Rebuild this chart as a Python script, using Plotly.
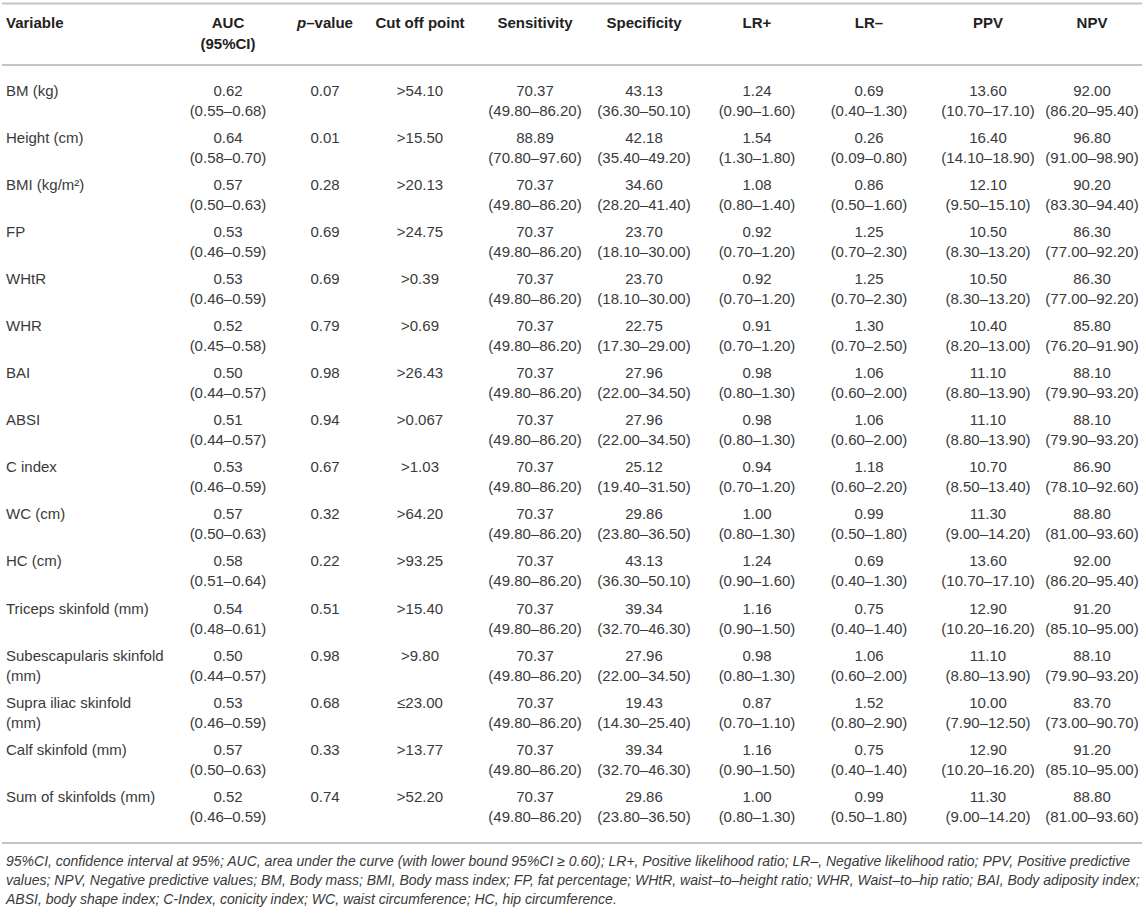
import plotly.graph_objects as go

# ---------------- data ----------------
variables = ["BM (kg)", "Height (cm)", "BMI (kg/m²)", "FP", "WHtR", "WHR", "BAI", "ABSI",
             "C index", "WC (cm)", "HC (cm)", "Triceps skinfold (mm)",
             "Subescapularis skinfold", "Supra iliac skinfold", "Calf skinfold (mm)",
             "Sum of skinfolds (mm)"]
variables_l2 = ["", "", "", "", "", "", "", "", "", "", "", "", "(mm)", "(mm)", "", ""]

auc = ["0.62", "0.64", "0.57", "0.53", "0.53", "0.52", "0.50", "0.51", "0.53", "0.57",
       "0.58", "0.54", "0.50", "0.53", "0.57", "0.52"]
auc_ci = ["(0.55–0.68)", "(0.58–0.70)", "(0.50–0.63)", "(0.46–0.59)", "(0.46–0.59)",
          "(0.45–0.58)", "(0.44–0.57)", "(0.44–0.57)", "(0.46–0.59)", "(0.50–0.63)",
          "(0.51–0.64)", "(0.48–0.61)", "(0.44–0.57)", "(0.46–0.59)", "(0.50–0.63)",
          "(0.46–0.59)"]
p_value = ["0.07", "0.01", "0.28", "0.69", "0.69", "0.79", "0.98", "0.94", "0.67", "0.32",
           "0.22", "0.51", "0.98", "0.68", "0.33", "0.74"]
cutoff = [">54.10", ">15.50", ">20.13", ">24.75", ">0.39", ">0.69", ">26.43", ">0.067",
          ">1.03", ">64.20", ">93.25", ">15.40", ">9.80", "≤23.00", ">13.77", ">52.20"]
sens = ["70.37", "88.89"] + ["70.37"] * 14
sens_ci = ["(49.80–86.20)", "(70.80–97.60)"] + ["(49.80–86.20)"] * 14
spec = ["43.13", "42.18", "34.60", "23.70", "23.70", "22.75", "27.96", "27.96", "25.12",
        "29.86", "43.13", "39.34", "27.96", "19.43", "39.34", "29.86"]
spec_ci = ["(36.30–50.10)", "(35.40–49.20)", "(28.20–41.40)", "(18.10–30.00)",
           "(18.10–30.00)", "(17.30–29.00)", "(22.00–34.50)", "(22.00–34.50)",
           "(19.40–31.50)", "(23.80–36.50)", "(36.30–50.10)", "(32.70–46.30)",
           "(22.00–34.50)", "(14.30–25.40)", "(32.70–46.30)", "(23.80–36.50)"]
lr_pos = ["1.24", "1.54", "1.08", "0.92", "0.92", "0.91", "0.98", "0.98", "0.94", "1.00",
          "1.24", "1.16", "0.98", "0.87", "1.16", "1.00"]
lr_pos_ci = ["(0.90–1.60)", "(1.30–1.80)", "(0.80–1.40)", "(0.70–1.20)", "(0.70–1.20)",
             "(0.70–1.20)", "(0.80–1.30)", "(0.80–1.30)", "(0.70–1.20)", "(0.80–1.30)",
             "(0.90–1.60)", "(0.90–1.50)", "(0.80–1.30)", "(0.70–1.10)", "(0.90–1.50)",
             "(0.80–1.30)"]
lr_neg = ["0.69", "0.26", "0.86", "1.25", "1.25", "1.30", "1.06", "1.06", "1.18", "0.99",
          "0.69", "0.75", "1.06", "1.52", "0.75", "0.99"]
lr_neg_ci = ["(0.40–1.30)", "(0.09–0.80)", "(0.50–1.60)", "(0.70–2.30)", "(0.70–2.30)",
             "(0.70–2.50)", "(0.60–2.00)", "(0.60–2.00)", "(0.60–2.20)", "(0.50–1.80)",
             "(0.40–1.30)", "(0.40–1.40)", "(0.60–2.00)", "(0.80–2.90)", "(0.40–1.40)",
             "(0.50–1.80)"]
ppv = ["13.60", "16.40", "12.10", "10.50", "10.50", "10.40", "11.10", "11.10", "10.70",
       "11.30", "13.60", "12.90", "11.10", "10.00", "12.90", "11.30"]
ppv_ci = ["(10.70–17.10)", "(14.10–18.90)", "(9.50–15.10)", "(8.30–13.20)", "(8.30–13.20)",
          "(8.20–13.00)", "(8.80–13.90)", "(8.80–13.90)", "(8.50–13.40)", "(9.00–14.20)",
          "(10.70–17.10)", "(10.20–16.20)", "(8.80–13.90)", "(7.90–12.50)", "(10.20–16.20)",
          "(9.00–14.20)"]
npv = ["92.00", "96.80", "90.20", "86.30", "86.30", "85.80", "88.10", "88.10", "86.90",
       "88.80", "92.00", "91.20", "88.10", "83.70", "91.20", "88.80"]
npv_ci = ["(86.20–95.40)", "(91.00–98.90)", "(83.30–94.40)", "(77.00–92.20)",
          "(77.00–92.20)", "(76.20–91.90)", "(79.90–93.20)", "(79.90–93.20)",
          "(78.10–92.60)", "(81.00–93.60)", "(86.20–95.40)", "(85.10–95.00)",
          "(79.90–93.20)", "(73.00–90.70)", "(85.10–95.00)", "(81.00–93.60)"]

headers = ["Variable", "AUC<br>(95%CI)", "<i>p</i>–value", "Cut off point", "Sensitivity",
           "Specificity", "LR+", "LR–", "PPV", "NPV"]

footnote = [
    "95%CI, confidence interval at 95%; AUC, area under the curve (with lower bound 95%CI ≥ 0.60); "
    "LR+, Positive likelihood ratio; LR–, Negative likelihood ratio; PPV, Positive predictive",
    "values; NPV, Negative predictive values; BM, Body mass; BMI, Body mass index; FP, fat percentage; "
    "WHtR, waist–to–height ratio; WHR, Waist–to–hip ratio; BAI, Body adiposity index;",
    "ABSI, body shape index; C-Index, conicity index; WC, waist circumference; HC, hip circumference.",
]

# ---------------- layout helpers ----------------
W, H = 1146, 916
col_x = [6, 228, 325, 420, 535, 644, 757, 869, 988, 1092]
row_y0, row_step, line2 = 92, 47.07, 20
rows_y = [row_y0 + i * row_step for i in range(len(variables))]
rows_y2 = [y + line2 for y in rows_y]

FONT = "Liberation Sans, Arial, Helvetica, sans-serif"
TXT = "#3a3a3a"
BODY = dict(family=FONT, size=15, color=TXT)

fig = go.Figure()

def col(x, texts, ys, pos="middle center", font=BODY):
    fig.add_trace(go.Scatter(x=[x] * len(texts), y=ys, text=texts, mode="text",
                             textposition=pos, textfont=font, hoverinfo="skip",
                             showlegend=False))

# Variable column (left aligned)
col(col_x[0], variables, rows_y, pos="middle right")
col(col_x[0], variables_l2, rows_y2, pos="middle right")

line1_cols = [auc, p_value, cutoff, sens, spec, lr_pos, lr_neg, ppv, npv]
line2_cols = [auc_ci, None, None, sens_ci, spec_ci, lr_pos_ci, lr_neg_ci, ppv_ci, npv_ci]
for x, l1, l2 in zip(col_x[1:], line1_cols, line2_cols):
    col(x, l1, rows_y)
    if l2 is not None:
        col(x, l2, rows_y2)

# Header
HEAD = dict(family=FONT, size=15, color="#222222")
for i, (x, h) in enumerate(zip(col_x, headers)):
    if i == 0:
        col(x, ["<b>" + h + "</b>"], [24], pos="middle right", font=HEAD)
    elif "<br>" in h:
        a, b = h.split("<br>")
        col(x, ["<b>" + a + "</b>"], [24], font=HEAD)
        col(x, ["<b>" + b + "</b>"], [45], font=HEAD)
    else:
        col(x, ["<b>" + h + "</b>"], [24], font=HEAD)

# Footnote
FOOT = dict(family=FONT, size=14, color=TXT)
for i, t in enumerate(footnote):
    fig.add_trace(go.Scatter(x=[6], y=[862 + i * 19.3], text=["<i>" + t + "</i>"],
                             mode="text", textposition="middle right", textfont=FOOT,
                             hoverinfo="skip", showlegend=False))

# Rules
for y in [3.5, 65, 843]:
    fig.add_shape(type="line", x0=2, x1=1142, y0=y, y1=y, xref="x", yref="y",
                  line=dict(color="#c4c4c4", width=2))

fig.update_layout(width=W, height=H, autosize=False, margin=dict(l=0, r=0, t=0, b=0),
                  paper_bgcolor="white", plot_bgcolor="white",
                  xaxis=dict(range=[0, W], visible=False, fixedrange=True),
                  yaxis=dict(range=[H, 0], visible=False, fixedrange=True))

fig.write_html("out.html", config={"displayModeBar": False, "staticPlot": True},
               post_script="document.body.style.margin='0';")
